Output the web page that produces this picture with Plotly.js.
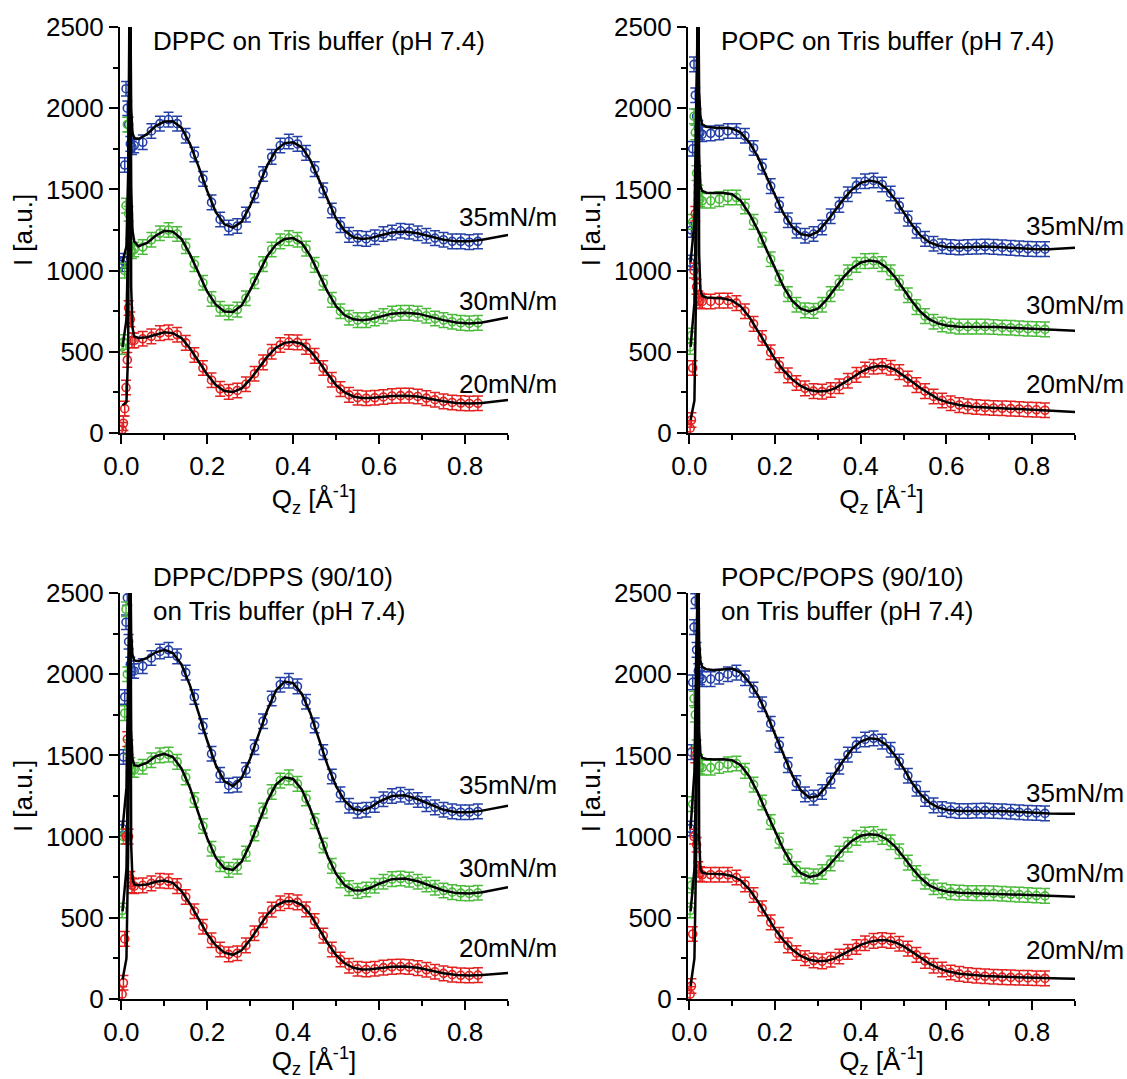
<!DOCTYPE html>
<html>
<head>
<meta charset="utf-8">
<script src="https://cdn.plot.ly/plotly-3.0.1.min.js"></script>
<style>html,body{margin:0;padding:0;background:#fff;}#chart{width:1127px;height:1079px;}</style>
</head>
<body>
<div id="chart"></div>
<script>
// ---------- DATA ----------
const panelTitles = [
  "DPPC on Tris buffer (pH 7.4)",
  "POPC on Tris buffer (pH 7.4)",
  "DPPC/DPPS (90/10)<br>on Tris buffer (pH 7.4)",
  "POPC/POPS (90/10)<br>on Tris buffer (pH 7.4)"
];
const pressureLabels = ["35mN/m", "30mN/m", "20mN/m"];
const xTickVals = [0, 0.2, 0.4, 0.6, 0.8];
const xTickText = ["0.0", "0.2", "0.4", "0.6", "0.8"];
const yTickVals = [0, 500, 1000, 1500, 2000, 2500];
const yTickText = ["0", "500", "1000", "1500", "2000", "2500"];
const errorBar = 45;

// measured Qz grid
const qData = [0.002,0.005,0.008,0.011,0.014,0.017,0.021,0.025,
  0.03,0.05,0.07,0.09,0.11,0.13,0.15,0.17,0.19,0.21,0.23,0.25,0.27,0.29,0.31,0.33,0.35,0.37,0.39,
  0.41,0.43,0.45,0.47,0.49,0.51,0.53,0.55,0.57,0.59,0.61,0.63,0.65,0.67,0.69,0.71,0.73,0.75,0.77,0.79,0.81,0.83];

// fit Qz grid
const qFit = [0.003,0.012,0.016,0.019,0.021,0.023,0.026,0.03,0.04,
  0.06,0.08,0.1,0.12,0.14,0.16,0.18,0.2,0.22,0.24,0.26,0.28,0.3,0.32,0.34,0.36,0.38,0.4,
  0.42,0.44,0.46,0.48,0.5,0.52,0.54,0.56,0.58,0.6,
  0.63,0.66,0.69,0.72,0.75,0.78,0.81,0.84,0.87,0.9];

// ----- DPPC -----
const dDPPC35 = [1040,1060,1650,2120,2000,1900,1780,1760,
  1770,1790,1860,1905,1930,1905,1830,1715,1565,1420,1315,1265,1275,1345,1465,1595,1700,1770,1795,
  1780,1725,1625,1495,1370,1280,1220,1200,1195,1205,1225,1235,1245,1240,1230,1215,1200,1190,1180,1180,1175,1180];
const dDPPC30 = [530,560,1000,1400,1900,1350,1150,1120,
  1130,1145,1190,1230,1250,1225,1150,1040,925,825,765,742,760,830,935,1040,1130,1180,1200,
  1190,1135,1035,925,820,750,710,695,695,705,720,735,740,740,735,722,705,695,685,678,675,678];
const dDPPC20 = [20,60,150,280,450,770,700,570,
  570,580,595,615,620,605,555,480,400,325,272,253,262,300,365,435,500,542,560,
  558,530,475,400,328,270,235,218,214,217,222,228,230,230,225,215,205,195,188,184,182,183];
const fDPPC35 = [1050,1150,1600,2700,2700,2000,1850,1815,1810,
  1840,1890,1918,1920,1880,1780,1640,1490,1360,1285,1265,1300,1400,1530,1650,1740,1785,1790,
  1760,1680,1560,1430,1320,1245,1205,1195,1200,1215,
  1235,1240,1230,1210,1190,1180,1180,1190,1205,1220];
const fDPPC30 = [530,700,1200,2700,2700,1500,1250,1180,1150,
  1170,1215,1245,1240,1195,1100,980,870,790,748,745,785,880,990,1090,1160,1195,1200,
  1170,1090,980,870,780,725,700,695,700,715,
  735,740,735,715,695,680,675,680,695,712];
const fDPPC20 = [170,190,500,2700,2700,900,650,595,585,
  590,605,620,615,585,520,440,360,295,258,252,275,330,400,470,525,555,562,
  550,505,440,365,295,250,225,215,215,220,
  228,230,225,210,195,185,182,185,193,203];

// ----- POPC -----
const dPOPC35 = [1050,1250,1750,2270,2080,1950,1880,1850,
  1840,1845,1850,1860,1860,1830,1755,1640,1520,1405,1310,1245,1215,1225,1265,1335,1405,1470,1525,
  1550,1555,1530,1475,1400,1320,1245,1195,1165,1150,1145,1142,1145,1147,1148,1146,1143,1140,1137,1134,1132,1132];
const dPOPC30 = [530,600,1300,1950,1850,1600,1480,1440,
  1430,1430,1440,1450,1450,1395,1300,1190,1070,955,855,790,755,752,790,855,925,990,1035,
  1058,1060,1040,990,925,848,775,720,685,668,660,655,655,655,655,653,650,648,645,642,640,638];
const dPOPC20 = [30,80,400,1000,1350,900,830,815,
  810,810,815,815,800,750,672,585,497,418,355,308,275,258,255,265,288,322,358,
  390,408,412,402,375,335,295,258,225,200,183,172,165,160,157,154,152,150,148,145,143,140];
const fPOPC35 = [1050,1300,2000,2700,2700,2100,1950,1900,1885,
  1880,1880,1875,1850,1790,1700,1580,1460,1350,1270,1225,1215,1240,1300,1370,1440,1500,1540,
  1555,1545,1505,1440,1360,1280,1215,1175,1155,1145,
  1142,1145,1148,1145,1140,1135,1132,1132,1135,1140];
const fPOPC30 = [530,800,1500,2700,2700,1700,1520,1490,1480,
  1478,1478,1470,1430,1350,1250,1130,1010,900,815,765,748,765,820,890,960,1015,1050,
  1062,1055,1020,960,885,810,745,700,675,662,
  655,655,655,652,648,645,640,637,634,630];
const fPOPC20 = [80,200,900,2700,2700,1100,880,845,835,
  830,828,815,780,715,630,540,455,385,330,290,265,255,258,275,305,340,375,
  400,412,410,390,355,315,275,240,210,190,
  172,162,157,153,150,147,143,138,134,130];

// ----- DPPC/DPPS -----
const dDPPS35 = [1050,1490,1860,2320,2470,2200,2060,2020,
  2020,2050,2100,2140,2150,2110,2010,1860,1680,1510,1380,1315,1320,1410,1550,1710,1850,1935,1960,
  1925,1830,1685,1520,1370,1260,1190,1160,1165,1195,1230,1250,1258,1245,1225,1200,1180,1165,1155,1150,1150,1155];
const dDPPS30 = [545,1000,1760,2400,2000,1550,1440,1410,
  1410,1430,1470,1500,1505,1460,1365,1225,1065,925,830,795,815,895,1020,1160,1275,1345,1365,
  1325,1235,1095,945,820,730,683,666,674,697,722,738,742,735,722,705,685,668,658,652,650,654];
const dDPPS20 = [30,100,370,1000,1600,1000,740,700,
  695,700,712,728,725,695,628,540,445,362,305,275,282,330,405,485,550,590,603,
  595,552,480,390,305,243,205,186,182,186,193,198,200,197,190,180,168,158,150,146,145,147];
const fDPPS35 = [1050,1300,2000,2700,2700,2250,2120,2085,2080,
  2100,2135,2150,2130,2060,1930,1760,1590,1440,1340,1310,1360,1480,1630,1780,1900,1955,1945,
  1880,1760,1600,1440,1310,1220,1170,1160,1180,1215,
  1250,1255,1230,1195,1165,1150,1150,1160,1175,1190];
const fDPPS30 = [540,800,1500,2700,2700,1650,1480,1440,1435,
  1455,1495,1510,1490,1420,1300,1140,990,870,805,795,845,955,1090,1220,1320,1365,1355,
  1290,1170,1020,880,770,700,670,668,685,710,
  738,742,725,695,668,652,650,658,672,688];
const fDPPS20 = [120,250,900,2700,2700,950,740,705,700,
  705,722,730,715,665,585,490,400,330,285,272,300,365,445,520,575,600,603,
  580,520,435,345,270,220,192,182,183,190,
  198,200,192,175,158,148,145,148,153,160];

// ----- POPC/POPS -----
const dPOPS35 = [1050,1520,1950,2290,2450,2150,2020,1980,
  1970,1970,1985,2000,2010,1975,1905,1815,1695,1565,1440,1330,1260,1240,1275,1345,1430,1505,1565,
  1598,1605,1585,1535,1462,1375,1295,1232,1192,1170,1162,1158,1158,1159,1160,1158,1156,1153,1150,1147,1145,1143];
const dPOPS30 = [545,700,1200,1850,1750,1550,1460,1430,
  1425,1425,1435,1445,1450,1405,1320,1210,1090,975,875,800,760,755,782,835,895,950,992,
  1012,1015,998,965,910,840,775,722,688,668,658,655,653,652,652,651,648,645,643,640,637,635];
const dPOPS20 = [30,80,400,1000,1500,950,800,770,
  765,765,765,765,748,705,640,558,472,395,330,283,252,237,232,242,262,290,320,
  343,358,363,358,340,310,272,235,205,182,163,155,148,143,140,137,135,133,131,130,128,127];
const fPOPS35 = [1050,1400,2100,2700,2700,2200,2080,2045,2030,
  2025,2030,2035,2010,1950,1870,1760,1630,1500,1380,1285,1240,1250,1310,1390,1470,1540,1585,
  1605,1600,1565,1500,1420,1330,1260,1210,1180,1165,
  1158,1158,1160,1158,1155,1150,1145,1142,1140,1140];
const fPOPS30 = [540,800,1500,2700,2700,1650,1510,1485,1478,
  1475,1476,1470,1440,1370,1270,1150,1030,920,830,775,752,762,805,865,925,975,1005,
  1015,1010,985,940,875,805,745,700,675,662,
  655,652,652,650,646,642,638,635,632,630];
const fPOPS20 = [80,250,900,2700,2700,1000,800,778,772,
  770,768,758,730,675,600,515,430,360,305,265,242,232,235,250,275,305,333,
  352,362,362,350,325,290,252,218,192,172,
  155,146,141,138,135,132,130,128,126,125];

// ---------- STYLE ----------
const colors = ["#2440a6", "#4cbb3c", "#e3211f"];
const FONT = "Liberation Sans, Arial, Helvetica, sans-serif";
const fs = 26;

const panels = [
  {data: [dDPPC35, dDPPC30, dDPPC20], fit: [fDPPC35, fDPPC30, fDPPC20], labelY: [1330, 813, 302]},
  {data: [dPOPC35, dPOPC30, dPOPC20], fit: [fPOPC35, fPOPC30, fPOPC20], labelY: [1275, 788, 302]},
  {data: [dDPPS35, dDPPS30, dDPPS20], fit: [fDPPS35, fDPPS30, fDPPS20], labelY: [1318, 807, 314]},
  {data: [dPOPS35, dPOPS30, dPOPS20], fit: [fPOPS35, fPOPS30, fPOPS20], labelY: [1270, 777, 302]}
];

const W = 1127, H = 1079;
const xDomains = [[120/W, 508/W], [688/W, 1075/W], [120/W, 508/W], [688/W, 1075/W]];
const yDomains = [[1-433/H, 1-27/H], [1-433/H, 1-27/H], [1-999/H, 1-593/H], [1-999/H, 1-593/H]];

const traces = [];
const annotations = [];
const layout = {
  width: W, height: H,
  margin: {l: 0, r: 0, t: 0, b: 0},
  paper_bgcolor: "#fff", plot_bgcolor: "#fff",
  showlegend: false,
  font: {family: FONT, size: fs, color: "#000"}
};

panels.forEach((p, i) => {
  const n = i + 1;
  const xa = n === 1 ? "x" : "x" + n;
  const ya = n === 1 ? "y" : "y" + n;
  p.data.forEach((d, k) => {
    traces.push({
      type: "scatter", mode: "markers", x: qData, y: d, xaxis: xa, yaxis: ya,
      marker: {symbol: "circle-open", size: 8, color: colors[k], line: {width: 1.6, color: colors[k]}},
      error_y: {type: "constant", value: errorBar, color: colors[k], thickness: 1.5, width: 5},
      hoverinfo: "skip"
    });
  });
  p.fit.forEach((f) => {
    traces.push({
      type: "scatter", mode: "lines", x: qFit, y: f, xaxis: xa, yaxis: ya,
      line: {color: "#000", width: 2.5}, hoverinfo: "skip"
    });
  });
  const axisCommon = {
    showline: true, linecolor: "#000", linewidth: 2,
    ticks: "outside", ticklen: 9, tickwidth: 2, tickcolor: "#000",
    showgrid: false, zeroline: false, mirror: false,
    tickfont: {family: FONT, size: fs, color: "#000"}
  };
  layout["xaxis" + (n === 1 ? "" : n)] = Object.assign({}, axisCommon, {
    domain: xDomains[i], anchor: ya, range: [-0.003, 0.9],
    tickvals: xTickVals, ticktext: xTickText,
    minor: {tickvals: [0.1, 0.3, 0.5, 0.7, 0.9], ticks: "outside", ticklen: 5, tickwidth: 2, tickcolor: "#000", showgrid: false},
    title: {text: "Q<sub>z</sub> [Å<sup>-1</sup>]", font: {family: FONT, size: fs, color: "#000"}, standoff: 6}
  });
  layout["yaxis" + (n === 1 ? "" : n)] = Object.assign({}, axisCommon, {
    domain: yDomains[i], anchor: xa, range: [0, 2500],
    tickvals: yTickVals, ticktext: yTickText,
    minor: {tickvals: [250, 750, 1250, 1750, 2250], ticks: "outside", ticklen: 5, tickwidth: 2, tickcolor: "#000", showgrid: false},
    title: {text: "I [a.u.]", font: {family: FONT, size: fs, color: "#000"}, standoff: 6}
  });
  const twoLine = panelTitles[i].indexOf("<br>") >= 0;
  annotations.push({
    xref: xa + " domain", yref: ya + " domain",
    x: 0.08, y: twoLine ? 0.998 : 0.966,
    xanchor: "left", yanchor: "middle", align: "left",
    text: panelTitles[i], showarrow: false,
    font: {family: FONT, size: fs, color: "#000"}
  });
  pressureLabels.forEach((lab, k) => {
    annotations.push({
      xref: xa, yref: ya, x: 0.782, y: p.labelY[k],
      xanchor: "left", yanchor: "middle",
      text: lab, showarrow: false,
      font: {family: FONT, size: fs, color: "#000"}
    });
  });
});
layout.annotations = annotations;

Plotly.newPlot("chart", traces, layout, {staticPlot: true, displayModeBar: false});
</script>
</body>
</html>
